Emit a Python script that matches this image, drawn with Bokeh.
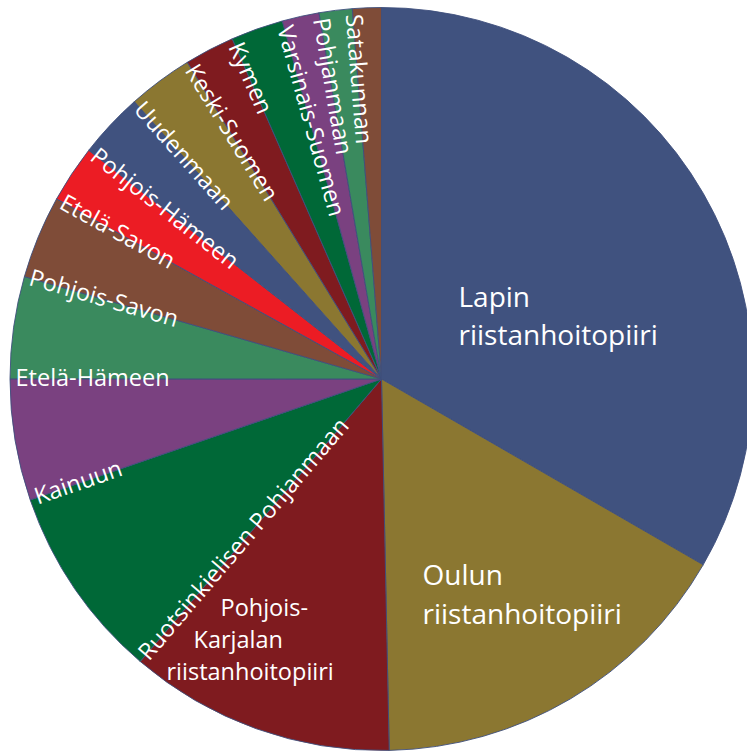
import math
from bokeh.plotting import figure
from bokeh.models import Range1d, ColumnDataSource
from bokeh.core.properties import value
from bokeh.embed import file_html
from bokeh.resources import INLINE

# ---- data (clockwise from 12 o'clock) ----
districts = ["Lapin", "Oulun", "Pohjois-Karjalan", "Ruotsinkielisen Pohjanmaan",
             "Kainuun", "Etelä-Hämeen", "Pohjois-Savon", "Etelä-Savon",
             "Pohjois-Hämeen", "Uudenmaan", "Keski-Suomen", "Kymen",
             "Varsinais-Suomen", "Pohjanmaan", "Satakunnan"]
shares = [33.33, 16.33, 11.58, 8.47, 5.28, 4.44, 3.61, 2.50,
          2.86, 2.83, 2.17, 2.28, 1.61, 1.44, 1.25]
palette = ["#40527f", "#8b7731", "#7f1b1f", "#006837",
           "#7a4180", "#3a8a5e", "#7f4c38", "#ec1c24"]
big_label_lines = {
    "Lapin": ["Lapin", "riistanhoitopiiri"],
    "Oulun": ["Oulun", "riistanhoitopiiri"],
    "Pohjois-Karjalan": ["Pohjois-", "Karjalan", "riistanhoitopiiri"],
}

# ---- layout ----
W, H = 747, 751
CX, CY_TOP = 381, 378.5          # centre in canvas px (from top-left)
CY = H - CY_TOP
R = 371.5
FONT = "Open Sans"
# (dx, dy of first baseline, line step, x shift per line, font px)
big_label_layout = {
    "Lapin": (77, 83.5, 38, 0, 28),
    "Oulun": (41, -194.5, 39, 0, 28),
    "Pohjois-Karjalan": (-161, -227.5, 32, -27, 23.5),
}
R_LABEL = 366
GAP = 2.0
SMALL_FONT = 23.5

total = sum(shares)
starts, ends, colors = [], [], []
theta = 0.0  # degrees clockwise from top
start_thetas = []
for i, s in enumerate(shares):
    d = 360.0 * s / total
    start_thetas.append(theta)
    starts.append(math.radians(90 - theta))
    ends.append(math.radians(90 - theta - d))
    colors.append(palette[i % len(palette)])
    theta += d

p = figure(width=W, height=H, output_backend="svg", toolbar_location=None,
           x_range=Range1d(0, W), y_range=Range1d(0, H), min_border=0)
p.axis.visible = False
p.grid.visible = False
p.outline_line_color = None
p.background_fill_color = "white"
p.border_fill_color = "white"

src = ColumnDataSource(dict(start=starts, end=ends, color=colors, name=districts))
p.wedge(x=CX, y=CY, radius=R, start_angle="start", end_angle="end",
        direction="clock", fill_color="color", line_color="#3e4f7d",
        line_width=0.9, source=src)

# big multi-line labels
for name, lines in big_label_lines.items():
    dx, dy, step, shift, fs = big_label_layout[name]
    for k, line in enumerate(lines):
        p.text(x=[CX + dx + k * shift], y=[CY + dy - k * step], text=[line],
               text_align="left", text_baseline="alphabetic",
               text_font=value(FONT), text_font_size=value(f"{fs}px"),
               text_color="white")

# radial labels along the starting edge of each small slice
rx, ry, ra, rt = [], [], [], []
for name, th in zip(districts, start_thetas):
    if name in big_label_lines:
        continue
    t = math.radians(th)
    bxp = CX + R_LABEL * math.sin(t)
    byp = CY + R_LABEL * math.cos(t)
    a = math.atan2(-math.cos(t), -math.sin(t))
    ux, uy = -math.sin(a), math.cos(a)
    rx.append(bxp + GAP * ux)
    ry.append(byp + GAP * uy)
    ra.append(a)
    rt.append(name)
p.text(x=rx, y=ry, text=rt, angle=ra, text_align="left",
       text_baseline="alphabetic", text_font=value(FONT),
       text_font_size=value(f"{SMALL_FONT}px"), text_color="white")

open("out.html", "w").write(file_html(p, INLINE))
